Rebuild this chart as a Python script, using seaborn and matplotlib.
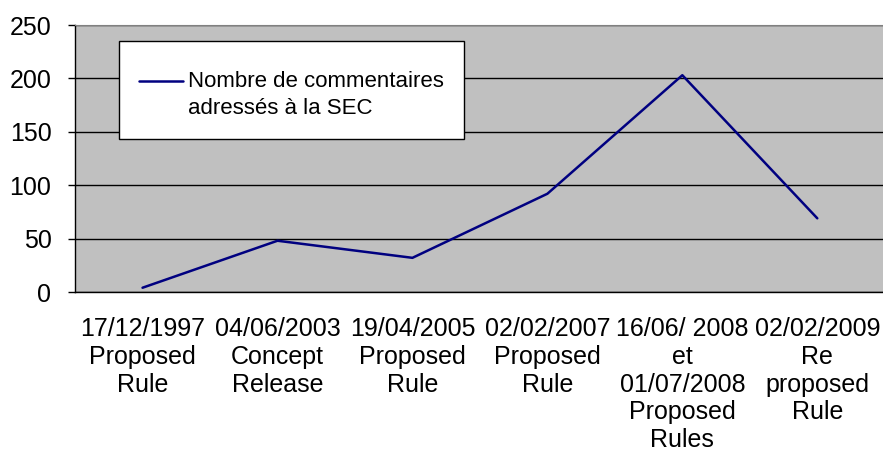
import matplotlib
matplotlib.use("Agg")
import matplotlib.pyplot as plt
import seaborn as sns
import numpy as np
import pandas as pd

# données
labels = [
    "17/12/1997\nProposed\nRule",
    "04/06/2003\nConcept\nRelease",
    "19/04/2005\nProposed\nRule",
    "02/02/2007\nProposed\nRule",
    "16/06/ 2008\net\n01/07/2008\nProposed\nRules",
    "02/02/2009\nRe\nproposed\nRule",
]
commentaires = [4, 48, 32, 92, 203, 69]
serie = "Nombre de commentaires\nadressés à la SEC"

df = pd.DataFrame({"pos": np.arange(len(labels)), "val": commentaires, "serie": serie})

sns.set_style("white", {"text.color": "black", "xtick.color": "black",
                        "ytick.color": "black", "axes.labelcolor": "black"})
plt.rcParams["font.family"] = ["Liberation Sans", "DejaVu Sans"]

fig = plt.figure(figsize=(8.83, 4.53), dpi=100)
ax = fig.add_axes([0.085, 0.3554, 0.917, 0.5894])
ax.set_facecolor("#C0C0C0")

sns.lineplot(data=df, x="pos", y="val", hue="serie", palette=["#000080"],
             linewidth=1.8, ax=ax)

ax.set_xlim(-0.5, len(labels) - 0.5)
ax.set_ylim(0, 250)
ax.set_yticks(range(0, 251, 50))
ax.yaxis.grid(True, color="black", linewidth=1)
ax.set_axisbelow(True)

ax.set_xticks(np.arange(len(labels)))
ax.set_xticklabels(labels, fontsize=18, linespacing=1.2)
ax.set_xticks(np.arange(len(labels) + 1) - 0.5, minor=True)
ax.tick_params(axis="x", which="major", length=0, pad=18, labelcolor="black")
ax.tick_params(axis="x", which="minor", length=5, width=1, color="black", direction="out")
ax.tick_params(axis="y", length=5, width=1, color="black", direction="out",
               labelsize=18, pad=12, left=True, labelcolor="black")
ax.set_xlabel("")
ax.set_ylabel("")

for side in ["left", "bottom"]:
    ax.spines[side].set_color("black")
    ax.spines[side].set_linewidth(1)
ax.spines["top"].set_color("#808080")
ax.spines["right"].set_visible(False)

# un titre vide minuscule pour laisser de l'espace en haut de la légende
leg = ax.legend(loc="upper left", bbox_to_anchor=(0.054, 0.94), borderaxespad=0,
                fontsize=16, frameon=True, fancybox=False, handlelength=2.0,
                handletextpad=0.2, borderpad=0.9, labelspacing=0.4,
                title=" ", title_fontsize=1)
for t in leg.get_texts():
    t.set_linespacing(1.4)
    t.set_color("black")
# la ligne de légende est alignée sur la première ligne du texte
for ln in leg.get_lines():
    ln.set_ydata(np.asarray(ln.get_ydata()) + 10)
leg.get_frame().set_edgecolor("black")
leg.get_frame().set_facecolor("white")
leg.get_frame().set_alpha(1)
leg.get_frame().set_linewidth(1)

fig.savefig("out.png", dpi=100)
